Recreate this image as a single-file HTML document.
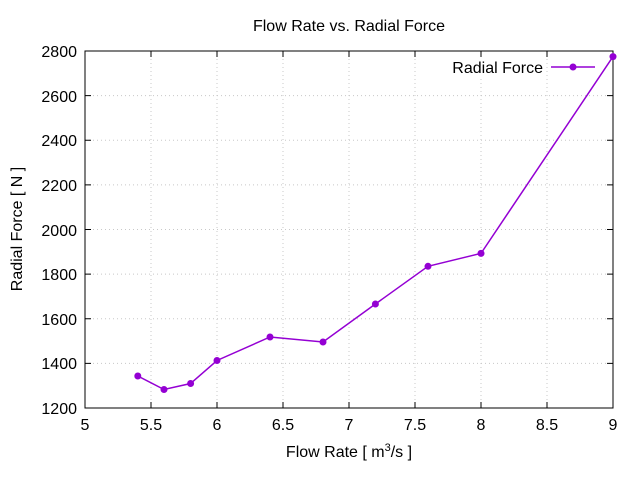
<!DOCTYPE html>
<html><head><meta charset="utf-8"><style>
html,body{margin:0;padding:0;background:#fff;}
svg{display:block;font-family:"Liberation Sans",sans-serif;}
</style></head><body>
<svg width="640" height="480" viewBox="0 0 640 480" xmlns="http://www.w3.org/2000/svg">
<rect width="640" height="480" fill="#fff"/>
<g stroke="#c8c8c8" stroke-width="1" stroke-dasharray="1,3">
<line x1="151" y1="51" x2="151" y2="408"/>
<line x1="217" y1="51" x2="217" y2="408"/>
<line x1="283" y1="51" x2="283" y2="408"/>
<line x1="349" y1="51" x2="349" y2="408"/>
<line x1="415" y1="51" x2="415" y2="408"/>
<line x1="481" y1="51" x2="481" y2="408"/>
<line x1="547" y1="51" x2="547" y2="408"/>
<line x1="85" y1="363.4" x2="613" y2="363.4"/>
<line x1="85" y1="318.8" x2="613" y2="318.8"/>
<line x1="85" y1="274.1" x2="613" y2="274.1"/>
<line x1="85" y1="229.5" x2="613" y2="229.5"/>
<line x1="85" y1="184.9" x2="613" y2="184.9"/>
<line x1="85" y1="140.3" x2="613" y2="140.3"/>
<line x1="85" y1="95.6" x2="613" y2="95.6"/>
</g>
<rect x="448" y="58" width="98" height="18" fill="#fff"/>
<rect x="85" y="51" width="528" height="357" fill="none" stroke="#000" stroke-width="1"/>
<g stroke="#000" stroke-width="1">
<path d="M151 408v-6M217 408v-6M283 408v-6M349 408v-6M415 408v-6M481 408v-6M547 408v-6M151 51v6M217 51v6M283 51v6M349 51v6M415 51v6M481 51v6M547 51v6"/>
<path d="M85 363.4h6M85 318.8h6M85 274.1h6M85 229.5h6M85 184.9h6M85 140.3h6M85 95.6h6M613 363.4h-6M613 318.8h-6M613 274.1h-6M613 229.5h-6M613 184.9h-6M613 140.3h-6M613 95.6h-6"/>
</g>
<g font-size="16" fill="#000" text-anchor="end">
<text x="77" y="414">1200</text><text x="77" y="369">1400</text><text x="77" y="325">1600</text>
<text x="77" y="280">1800</text><text x="77" y="236">2000</text><text x="77" y="191">2200</text>
<text x="77" y="146">2400</text><text x="77" y="102">2600</text><text x="77" y="57">2800</text>
</g>
<g font-size="16" fill="#000" text-anchor="middle">
<text x="85" y="430">5</text><text x="151" y="430">5.5</text><text x="217" y="430">6</text>
<text x="283" y="430">6.5</text><text x="349" y="430">7</text><text x="415" y="430">7.5</text>
<text x="481" y="430">8</text><text x="547" y="430">8.5</text><text x="613" y="430">9</text>
<text x="349" y="31">Flow Rate vs. Radial Force</text>
<text x="349" y="457">Flow Rate [ m<tspan font-size="11" dy="-6">3</tspan><tspan dy="6">/s ]</tspan></text>
<text transform="translate(22,229) rotate(-90)">Radial Force [ N ]</text>
</g>
<text x="543" y="73" font-size="16" text-anchor="end">Radial Force</text>
<g stroke="#9400d3" stroke-width="1.5" fill="none">
<line x1="551" y1="67" x2="595" y2="67"/>
<polyline points="137.8,376 164,389.5 190.6,383.5 217,360.5 270,337 323,342 375.4,304 428,266.3 481,253.4 613,56.6"/>
</g>
<g fill="#9400d3">
<circle cx="573" cy="67" r="3.5"/>
<circle cx="137.8" cy="376" r="3.5"/><circle cx="164" cy="389.5" r="3.5"/><circle cx="190.6" cy="383.5" r="3.5"/>
<circle cx="217" cy="360.5" r="3.5"/><circle cx="270" cy="337" r="3.5"/><circle cx="323" cy="342" r="3.5"/>
<circle cx="375.4" cy="304" r="3.5"/><circle cx="428" cy="266.3" r="3.5"/><circle cx="481" cy="253.4" r="3.5"/>
<circle cx="613" cy="56.6" r="3.5"/>
</g>
</svg>
</body></html>
